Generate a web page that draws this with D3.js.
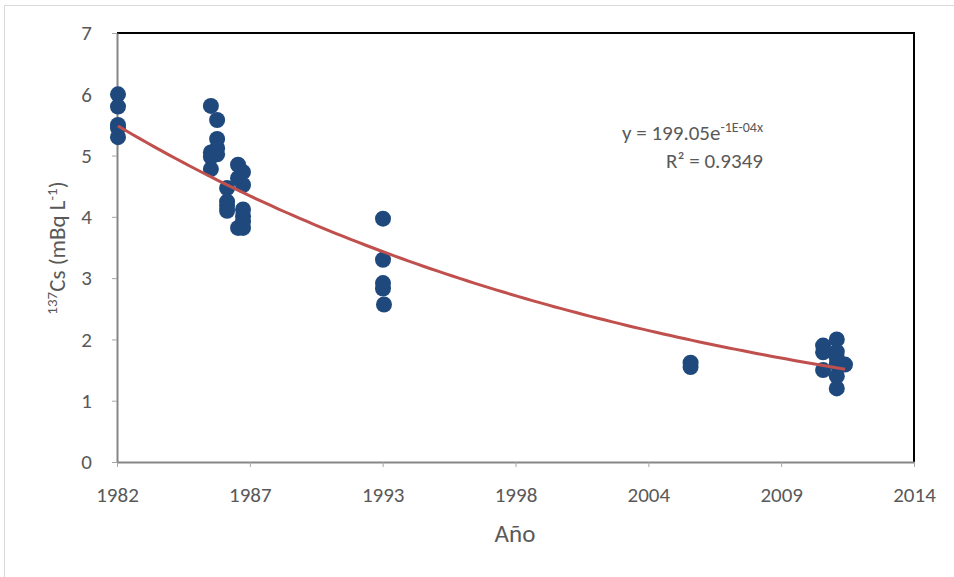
<!DOCTYPE html>
<html>
<head>
<meta charset="utf-8">
<script src="https://cdn.jsdelivr.net/npm/d3@7"></script>
<style>
  body { margin: 0; background: #fff; }
  text { font-family: Calibri, Carlito, Lato, sans-serif; fill: #595959; }
</style>
</head>
<body>
<script>
// sample dates (decimal years) and 137Cs values
var years = [
  1982.04, 1982.04, 1982.04, 1982.04, 1982.04,
  1985.77, 1985.77, 1985.77, 1985.77,
  1986.02, 1986.02, 1986.02, 1986.02,
  1986.42, 1986.42, 1986.42, 1986.42,
  1986.86, 1986.86, 1986.86,
  1987.06, 1987.06, 1987.06, 1987.06, 1987.06, 1987.06,
  1992.68, 1992.68, 1992.68, 1992.68, 1992.72,
  2005.03, 2005.03,
  2010.35, 2010.35, 2010.35,
  2010.9, 2010.9, 2010.9, 2010.9, 2010.9, 2010.9,
  2011.23
];
var cs137 = [
  6.0, 5.8, 5.5, 5.45, 5.3,
  5.81, 5.05, 4.98, 4.78,
  5.58, 5.27, 5.12, 5.02,
  4.47, 4.25, 4.18, 4.1,
  4.85, 4.63, 3.82,
  4.73, 4.52, 4.12, 4.01, 3.92, 3.82,
  3.97, 3.3, 2.92, 2.83, 2.57,
  1.62, 1.55,
  1.9, 1.79, 1.5,
  2.0, 1.8, 1.7, 1.6, 1.4, 1.2,
  1.59
];
var xTickLabels = ["1982", "1987", "1993", "1998", "2004", "2009", "2014"];
var yTicks = [0, 1, 2, 3, 4, 5, 6, 7];
var equationText = "y = 199.05e";
var equationExp = "-1E-04x";
var r2Text = "R² = 0.9349";

var svg_Width = 954;
var svg_Height = 577;
var margin = { top: 33, right: 40, bottom: 115, left: 117 };
var chart_Width = svg_Width - margin.left - margin.right;
var chart_Height = svg_Height - margin.top - margin.bottom;

var svg = d3.select("body").append("svg")
  .attr("width", svg_Width)
  .attr("height", svg_Height);

// outer chart border
svg.append("rect")
  .attr("x", 4.5).attr("y", 5.5)
  .attr("width", 990).attr("height", 600)
  .attr("fill", "none")
  .attr("stroke", "#d9d9d9");

var chartGroup = svg.append("g")
  .attr("transform", `translate(${margin.left}, ${margin.top})`);

var x = d3.scaleLinear().domain([1982, 2014]).range([0, chart_Width]);
var y = d3.scaleLinear().domain([0, 7]).range([chart_Height, 0]);
var xTickValues = xTickLabels.map(function(d, i) { return 1982 + i * 32 / (xTickLabels.length - 1); });

// plot area frame (top and right in black)
chartGroup.append("path")
  .attr("d", `M0,0H${chart_Width}V${chart_Height}`)
  .attr("fill", "none")
  .attr("stroke", "#000")
  .attr("stroke-width", 2);

var bottom_Axis = d3.axisBottom(x)
  .tickValues(xTickValues)
  .tickFormat(function(d, i) { return xTickLabels[i]; })
  .tickSize(5).tickSizeOuter(0);
var left_Axis = d3.axisLeft(y)
  .tickValues(yTicks)
  .tickFormat(d3.format("d"))
  .tickSize(5).tickSizeOuter(0).tickPadding(20);

var gx = chartGroup.append("g")
  .attr("transform", `translate(0, ${chart_Height})`)
  .call(bottom_Axis);
var gy = chartGroup.append("g").call(left_Axis);

[gx, gy].forEach(function(g) {
  g.select(".domain").attr("stroke", "#868686").attr("stroke-width", 2);
  g.selectAll(".tick line").attr("stroke", "#a6a6a6");
  g.selectAll(".tick text").attr("fill", "#595959").style("font-size", "21px");
});
gx.selectAll(".tick text").attr("y", 40).attr("dy", null);

// exponential least squares fit (Excel style: ln y linear in x)
var pts = years.map(function(d, i) { return [d, cs137[i]]; });
var mx = d3.mean(pts, d => d[0]);
var my = d3.mean(pts, d => Math.log(d[1]));
var sxy = d3.sum(pts, d => (d[0] - mx) * (Math.log(d[1]) - my));
var sxx = d3.sum(pts, d => (d[0] - mx) * (d[0] - mx));
var b = sxy / sxx;
var a = my - b * mx;
var xs = d3.range(0, 101).map(function(i) {
  return d3.min(years) + i / 100 * (d3.max(years) - d3.min(years));
});

chartGroup.selectAll("circle")
  .data(pts)
  .enter()
  .append("circle")
  .attr("cx", d => x(d[0]))
  .attr("cy", d => y(d[1]))
  .attr("r", 8)
  .attr("fill", "#1F497D");

chartGroup.append("path")
  .datum(xs)
  .attr("fill", "none")
  .attr("stroke", "#C0504D")
  .attr("stroke-width", 3)
  .attr("d", d3.line().x(d => x(d)).y(d => y(Math.exp(a + b * d))));

// trendline label
var eq = chartGroup.append("text")
  .attr("x", 505)
  .attr("y", 107)
  .style("font-size", "21px");
eq.append("tspan").text(equationText);
eq.append("tspan").attr("dy", -8).style("font-size", "14px").text(equationExp);

chartGroup.append("text")
  .attr("x", 549)
  .attr("y", 135)
  .style("font-size", "21px")
  .text(r2Text);

// axis titles
svg.append("text")
  .attr("x", 515)
  .attr("y", 542)
  .attr("text-anchor", "middle")
  .style("font-size", "25px")
  .text("Año");

var yt = svg.append("text")
  .attr("transform", `translate(65, 248) rotate(-90)`)
  .attr("text-anchor", "middle")
  .style("font-size", "23px");
yt.append("tspan").attr("dy", -8).style("font-size", "15px").text("137");
yt.append("tspan").attr("dy", 8).text("Cs (mBq L");
yt.append("tspan").attr("dy", -8).style("font-size", "15px").text("-1");
yt.append("tspan").attr("dy", 8).text(")");
</script>
</body>
</html>
